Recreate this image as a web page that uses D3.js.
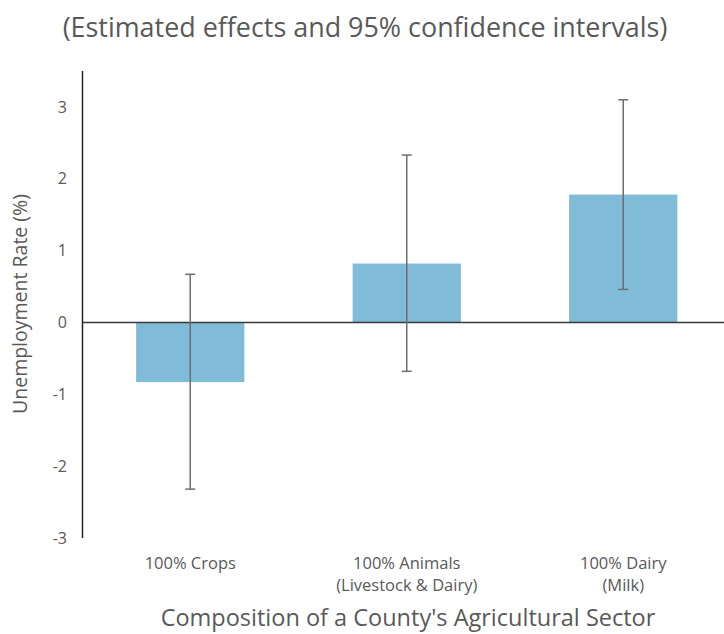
<!DOCTYPE html>
<html><head><meta charset="utf-8">
<script src="https://cdn.jsdelivr.net/npm/d3@7/dist/d3.min.js"></script>
<style>body{margin:0;background:#fff}svg{display:block}text{font-family:"Open Sans",sans-serif;fill:#595959}</style>
</head><body><svg id="c" width="724" height="634"></svg>
<script>
const categories = [["100% Crops"], ["100% Animals", "(Livestock & Dairy)"], ["100% Dairy", "(Milk)"]];
const estimates = [-0.83, 0.82, 1.78];
const ciLow = [-2.32, -0.68, 0.46];
const ciHigh = [0.67, 2.33, 3.10];
const yTicks = [-3, -2, -1, 0, 1, 2, 3];
const titleText = "(Estimated effects and 95% confidence intervals)";
const xTitle = "Composition of a County's Agricultural Sector";
const yTitle = "Unemployment Rate (%)";

const svg = d3.select("#c");
const x = d3.scaleBand().domain(d3.range(categories.length)).range([82, 731.5]).paddingInner(0.5).paddingOuter(0.25);
const y = d3.scaleLinear().domain([-3, 3.5]).range([538, 71]);

svg.append("text").attr("x", 365).attr("y", 37).attr("text-anchor", "middle").attr("font-size", 26.9).text(titleText);

// y tick labels
svg.append("g").selectAll("text").data(yTicks).join("text")
  .attr("x", 67).attr("y", d => y(d)).attr("dy", "0.35em").attr("text-anchor", "end")
  .attr("font-size", 16).text(d => d);

svg.append("text").attr("transform", `translate(27,304) rotate(-90)`).attr("text-anchor", "middle")
  .attr("font-size", 19.5).text(yTitle);

// bars
svg.append("g").selectAll("rect").data(estimates).join("rect")
  .attr("x", (d, i) => x(i)).attr("width", x.bandwidth())
  .attr("y", d => y(Math.max(0, d))).attr("height", d => Math.abs(y(d) - y(0)))
  .attr("fill", "#80bbd7");

// zero line
svg.append("line").attr("x1", 82).attr("x2", 724).attr("y1", y(0)).attr("y2", y(0)).attr("stroke", "#3a3a3a").attr("stroke-width", 1.5);

// y axis line
svg.append("line").attr("x1", 82.5).attr("x2", 82.5).attr("y1", y(3.5)).attr("y2", y(-3)).attr("stroke", "#222").attr("stroke-width", 1.5);

// error bars
const eg = svg.append("g").attr("stroke", "#6e6e6e").attr("stroke-width", 1.5);
estimates.forEach((d, i) => {
  const cx = x(i) + x.bandwidth() / 2;
  eg.append("line").attr("x1", cx).attr("x2", cx).attr("y1", y(ciLow[i])).attr("y2", y(ciHigh[i]));
  eg.append("line").attr("x1", cx - 5).attr("x2", cx + 5).attr("y1", y(ciLow[i])).attr("y2", y(ciLow[i]));
  eg.append("line").attr("x1", cx - 5).attr("x2", cx + 5).attr("y1", y(ciHigh[i])).attr("y2", y(ciHigh[i]));
});

// category labels
const cg = svg.append("g");
categories.forEach((lines, i) => {
  const t = cg.append("text").attr("x", x(i) + x.bandwidth() / 2).attr("y", 569).attr("text-anchor", "middle").attr("font-size", 16.5);
  lines.forEach((l, k) => t.append("tspan").attr("x", x(i) + x.bandwidth() / 2).attr("dy", k ? 22 : 0).text(l));
});

svg.append("text").attr("x", 408).attr("y", 626).attr("text-anchor", "middle").attr("font-size", 23.5).text(xTitle);
</script></body></html>
